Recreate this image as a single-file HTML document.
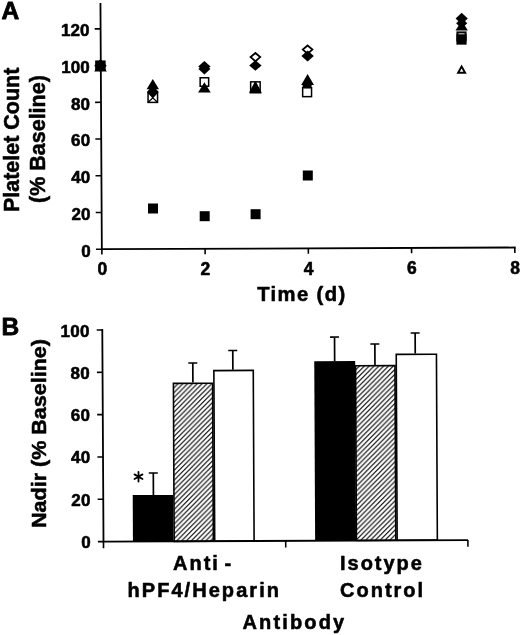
<!DOCTYPE html>
<html><head><meta charset="utf-8"><title>Figure</title>
<style>html,body{margin:0;padding:0;background:#fff}body{width:520px;height:635px;overflow:hidden;font-family:"Liberation Sans",sans-serif}</style></head>
<body>
<svg width="520" height="635" viewBox="0 0 520 635" style="display:block;will-change:transform" font-family="Liberation Sans, sans-serif" font-weight="bold" fill="#000">
<style>text{stroke:#000;stroke-width:0.55px;stroke-linejoin:round}</style>
<rect width="520" height="635" fill="#fff"/>
<path d="M100.45 3L101.85 249.2L515.6 247.50" fill="none" stroke="#000" stroke-width="1.8" stroke-linejoin="miter"/>
<path d="M95.95 249.23L101.85 249.20" stroke="#000" stroke-width="1.6"/>
<text x="90.85" y="256.60" font-size="17" letter-spacing="0.1" text-anchor="end">0</text>
<path d="M95.74 212.50L101.64 212.47" stroke="#000" stroke-width="1.6"/>
<text x="90.64" y="219.87" font-size="17" letter-spacing="0.1" text-anchor="end">20</text>
<path d="M95.53 175.78L101.43 175.75" stroke="#000" stroke-width="1.6"/>
<text x="90.43" y="183.15" font-size="17" letter-spacing="0.1" text-anchor="end">40</text>
<path d="M95.32 139.05L101.22 139.02" stroke="#000" stroke-width="1.6"/>
<text x="90.22" y="146.42" font-size="17" letter-spacing="0.1" text-anchor="end">60</text>
<path d="M95.11 102.33L101.01 102.30" stroke="#000" stroke-width="1.6"/>
<text x="90.01" y="109.70" font-size="17" letter-spacing="0.1" text-anchor="end">80</text>
<path d="M94.90 65.60L100.80 65.57" stroke="#000" stroke-width="1.6"/>
<text x="89.80" y="72.97" font-size="17" letter-spacing="0.1" text-anchor="end">100</text>
<path d="M94.69 28.88L100.59 28.85" stroke="#000" stroke-width="1.6"/>
<text x="89.59" y="36.25" font-size="17" letter-spacing="0.1" text-anchor="end">120</text>
<path d="M101.85 249.20L101.88 254.60" stroke="#000" stroke-width="1.6"/>
<text x="102.25" y="275.40" font-size="17.5" text-anchor="middle">0</text>
<path d="M205.09 248.78L205.12 254.18" stroke="#000" stroke-width="1.6"/>
<text x="205.49" y="274.98" font-size="17.5" text-anchor="middle">2</text>
<path d="M308.33 248.35L308.36 253.75" stroke="#000" stroke-width="1.6"/>
<text x="308.73" y="274.55" font-size="17.5" text-anchor="middle">4</text>
<path d="M411.57 247.93L411.60 253.33" stroke="#000" stroke-width="1.6"/>
<text x="411.97" y="274.13" font-size="17.5" text-anchor="middle">6</text>
<path d="M514.81 247.51L514.84 252.91" stroke="#000" stroke-width="1.6"/>
<text x="515.21" y="273.71" font-size="17.5" text-anchor="middle">8</text>
<text x="1.5" y="19.1" font-size="24.5" style="stroke-width:0.8px">A</text>
<text x="257.2" y="300.7" font-size="20.2" letter-spacing="1.4">Time (d)</text>
<text transform="translate(18.8,212.1) rotate(-90)" font-size="21.5" textLength="144.4" lengthAdjust="spacingAndGlyphs">Platelet Count</text>
<text transform="translate(44.5,203) rotate(-90)" font-size="21.5">(% Baseline)</text>
<path d="M100.50 61.00L106.80 71.40L94.20 71.40Z" fill="#000" stroke="none"/>
<path d="M100.50 59.10L106.70 65.70L100.50 72.30L94.30 65.70Z" fill="#000" stroke="none"/>
<rect x="95.15" y="60.45" width="10.5" height="10.5" fill="#000" stroke="none"/>
<rect x="148.05" y="92.90" width="9.5" height="9.5" fill="#fff" stroke="#000" stroke-width="1.5"/>
<path d="M148.20000000000002 102.2L152.8 97.8L157.4 102.2" stroke="#000" stroke-width="1.3" fill="none"/>
<path d="M152.80 85.40L158.80 91.90L152.80 98.40L146.80 91.90Z" fill="#000" stroke="none"/>
<path d="M152.80 79.00L159.00 89.20L146.60 89.20Z" fill="#000" stroke="none"/>
<rect x="148.00" y="203.50" width="10" height="10" fill="#000" stroke="none"/>
<rect x="200.15" y="77.75" width="8.5" height="8.5" fill="#fff" stroke="#000" stroke-width="1.5"/>
<path d="M204.40 82.20L210.70 92.40L198.10 92.40Z" fill="#000" stroke="none"/>
<path d="M204.40 61.00L210.60 66.40L204.40 71.80L198.20 66.40Z" fill="#000" stroke="none"/>
<path d="M204.40 63.70L210.40 69.10L204.40 74.50L198.40 69.10Z" fill="#000" stroke="none"/>
<rect x="199.70" y="211.20" width="10" height="10" fill="#000" stroke="none"/>
<rect x="250.65" y="81.85" width="9.5" height="9.5" fill="#fff" stroke="#000" stroke-width="1.5"/>
<path d="M255.4 82.6L260.6 92.6L250.20000000000002 92.6Z" fill="#000" stroke="#000" stroke-width="2" stroke-linejoin="round"/>
<path d="M255.40 53.00L260.20 57.10L255.40 61.20L250.60 57.10Z" fill="#fff" stroke="#000" stroke-width="1.8"/>
<path d="M255.40 60.20L261.60 65.50L255.40 70.80L249.20 65.50Z" fill="#000" stroke="none"/>
<rect x="250.60" y="209.20" width="10" height="10" fill="#000" stroke="none"/>
<rect x="302.65" y="87.75" width="8.9" height="8.9" fill="#fff" stroke="#000" stroke-width="1.5"/>
<rect x="302.6" y="84.5" width="9" height="3.6" fill="#000"/>
<path d="M307.60 74.10L314.00 85.10L301.20 85.10Z" fill="#000" stroke="none"/>
<path d="M307.60 45.50L312.40 49.60L307.60 53.70L302.80 49.60Z" fill="#fff" stroke="#000" stroke-width="1.8"/>
<path d="M307.60 50.50L313.80 56.00L307.60 61.50L301.40 56.00Z" fill="#000" stroke="none"/>
<rect x="302.80" y="170.50" width="10" height="10" fill="#000" stroke="none"/>
<rect x="457.4" y="32.4" width="8.2" height="8" fill="#fff" stroke="#000" stroke-width="2"/>
<rect x="456.4" y="34.25" width="10.2" height="10.4" fill="#000"/>
<path d="M461.70 20.70L467.90 30.50L455.50 30.50Z" fill="#000" stroke="none"/>
<path d="M461.70 18.10L467.30 23.30L461.70 28.50L456.10 23.30Z" fill="#000" stroke="none"/>
<path d="M461.70 12.70L467.80 18.50L461.70 24.30L455.60 18.50Z" fill="#000" stroke="none"/>
<path d="M461.60 66.55L465.10 72.75L458.10 72.75Z" fill="#fff" stroke="#000" stroke-width="1.9"/>
<defs><pattern id="h" width="4.85" height="4.85" patternUnits="userSpaceOnUse"><path d="M-1 5.15L5.15 -1M3.15 5.85L5.85 3.15M-1 0.3L0.3 -1" stroke="#000" stroke-width="1.12"/></pattern></defs>
<g transform="rotate(-0.28 285.0 540.86)">
<path d="M153.64 494.35V472.36M149.14 472.36H158.14" stroke="#000" stroke-width="1.7" fill="none"/>
<rect x="132.94" y="494.35" width="40.50" height="46.50" fill="#000" stroke="none"/>
<path d="M193.67 382.15V362.55M189.17 362.55H198.17" stroke="#000" stroke-width="1.7" fill="none"/>
<rect x="174.17" y="382.85" width="39.20" height="158.01" fill="#fff"/>
<rect x="174.17" y="382.85" width="39.20" height="158.01" fill="url(#h)" stroke="#000" stroke-width="1.6"/>
<path d="M233.70 369.55V350.25M229.20 350.25H238.20" stroke="#000" stroke-width="1.7" fill="none"/>
<rect x="214.70" y="370.25" width="39.40" height="170.61" fill="#fff"/>
<rect x="214.70" y="370.25" width="39.40" height="170.61" fill="#fff" stroke="#000" stroke-width="1.6"/>
<path d="M335.53 361.45V337.25M331.03 337.25H340.03" stroke="#000" stroke-width="1.7" fill="none"/>
<rect x="315.13" y="361.45" width="40.90" height="179.41" fill="#000" stroke="none"/>
<path d="M375.82 365.44V344.44M371.32 344.44H380.32" stroke="#000" stroke-width="1.7" fill="none"/>
<rect x="356.42" y="366.14" width="39.40" height="174.71" fill="#fff"/>
<rect x="356.42" y="366.14" width="39.40" height="174.71" fill="url(#h)" stroke="#000" stroke-width="1.6"/>
<path d="M416.15 354.25V333.64M411.65 333.64H420.65" stroke="#000" stroke-width="1.7" fill="none"/>
<rect x="397.15" y="354.95" width="40.20" height="185.91" fill="#fff"/>
<rect x="397.15" y="354.95" width="40.20" height="185.91" fill="#fff" stroke="#000" stroke-width="1.6"/>
</g>
<path d="M102.29 329L103.5 541.6L468 540.11" fill="none" stroke="#000" stroke-width="1.8"/>
<path d="M97.90 541.63L103.50 541.60" stroke="#000" stroke-width="1.6"/>
<text x="90.90" y="548.10" font-size="17" letter-spacing="0.25" text-anchor="end">0</text>
<path d="M97.66 499.31L103.26 499.28" stroke="#000" stroke-width="1.6"/>
<text x="90.66" y="505.78" font-size="17" letter-spacing="0.25" text-anchor="end">20</text>
<path d="M97.42 456.99L103.02 456.96" stroke="#000" stroke-width="1.6"/>
<text x="90.42" y="463.46" font-size="17" letter-spacing="0.25" text-anchor="end">40</text>
<path d="M97.18 414.67L102.78 414.64" stroke="#000" stroke-width="1.6"/>
<text x="90.18" y="421.14" font-size="17" letter-spacing="0.25" text-anchor="end">60</text>
<path d="M96.94 372.35L102.54 372.32" stroke="#000" stroke-width="1.6"/>
<text x="89.94" y="378.82" font-size="17" letter-spacing="0.25" text-anchor="end">80</text>
<path d="M96.69 330.03L102.29 330.00" stroke="#000" stroke-width="1.6"/>
<text x="89.69" y="336.50" font-size="17" letter-spacing="0.25" text-anchor="end">100</text>
<path d="M103.50 541.60L103.53 548.20" stroke="#000" stroke-width="1.6"/>
<path d="M285.70 540.85L285.73 547.45" stroke="#000" stroke-width="1.6"/>
<path d="M467.90 540.11L467.93 546.71" stroke="#000" stroke-width="1.6"/>
<text x="1.6" y="335.3" font-size="24.5" style="stroke-width:0.8px">B</text>
<text transform="translate(46.2,528) rotate(-90)" font-size="20.5" textLength="189" lengthAdjust="spacingAndGlyphs">Nadir (% Baseline)</text>
<path d="M138.5 471.9V481.5M134.5 474.4L142.5 479M142.5 474.4L134.5 479" stroke="#000" stroke-width="1.8" stroke-linecap="round" fill="none"/>
<text x="173" y="569.7" font-size="20" letter-spacing="2" word-spacing="-3">Anti -</text>
<text x="127.5" y="596.8" font-size="20" letter-spacing="2.05">hPF4/Heparin</text>
<text x="340" y="569.7" font-size="20" letter-spacing="1.98">Isotype</text>
<text x="340" y="596.8" font-size="20" letter-spacing="2.0">Control</text>
<text x="242.5" y="628.9" font-size="20" letter-spacing="2.14">Antibody</text>
</svg>
</body></html>
